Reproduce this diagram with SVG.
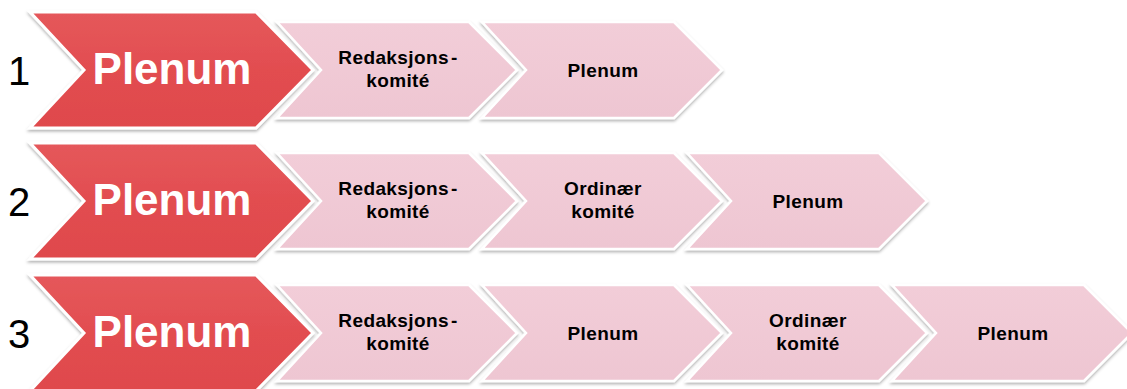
<svg xmlns="http://www.w3.org/2000/svg" width="1127" height="389" viewBox="0 0 1127 389">
<defs>
<linearGradient id="gRed" x1="0" y1="0" x2="0" y2="1">
<stop offset="0" stop-color="#e5585b"/>
<stop offset="0.5" stop-color="#e24d50"/>
<stop offset="1" stop-color="#df494c"/>
</linearGradient>
<linearGradient id="gPink" x1="0" y1="0" x2="0" y2="1">
<stop offset="0" stop-color="#f2cdd8"/>
<stop offset="1" stop-color="#eec6d2"/>
</linearGradient>
<filter id="sh" x="-5%" y="-10%" width="110%" height="125%">
<feDropShadow dx="0" dy="2" stdDeviation="1.5" flood-color="#000" flood-opacity="0.3"/>
</filter>
<path id="pink" d="M0,-48 L192,-48 L240,0 L192,48 L0,48 L44,0 Z"/>
<path id="red" d="M30,-58 L256,-58 L313,0 L256,58 L30,58 L84,0 Z"/>
</defs>
<style>
.pk{fill:url(#gPink);stroke:#fff;stroke-width:2.5;filter:url(#sh)}
.rd{fill:url(#gRed);stroke:#fff;stroke-width:3;filter:url(#sh)}
.num{font-family:"Liberation Sans",Arial,sans-serif;font-size:40px;fill:#000;text-anchor:middle}
.big{font-family:"Liberation Sans",Arial,sans-serif;font-weight:bold;font-size:44px;fill:#fff;text-anchor:middle}
.sm{font-family:"Liberation Sans",Arial,sans-serif;font-weight:bold;font-size:19px;fill:#000;text-anchor:middle;letter-spacing:0.4px}
</style>
<g id="connectors"/>
<!-- Row 1 -->
<g id="row1">
<g id="r1-n2" transform="translate(277,70)"><use href="#pink" class="pk"/>
<text class="sm" x="121" y="-6">Redaksjons<tspan dx="2">-</tspan></text><text class="sm" x="121" y="17">komité</text></g>
<g id="r1-n3" transform="translate(482,70)"><use href="#pink" class="pk"/>
<text class="sm" x="121" y="7">Plenum</text></g>
<g id="r1-n1" transform="translate(0,70)"><use href="#red" class="rd"/>
<text class="big" x="172" y="14">Plenum</text></g>
<text id="r1-num" class="num" x="19" y="85">1</text>
</g>
<!-- Row 2 -->
<g id="row2">
<g id="r2-n2" transform="translate(277,201)"><use href="#pink" class="pk"/>
<text class="sm" x="121" y="-6">Redaksjons<tspan dx="2">-</tspan></text><text class="sm" x="121" y="17">komité</text></g>
<g id="r2-n3" transform="translate(482,201)"><use href="#pink" class="pk"/>
<text class="sm" x="121" y="-6">Ordinær</text><text class="sm" x="121" y="17">komité</text></g>
<g id="r2-n4" transform="translate(687,201)"><use href="#pink" class="pk"/>
<text class="sm" x="121" y="7">Plenum</text></g>
<g id="r2-n1" transform="translate(0,201)"><use href="#red" class="rd"/>
<text class="big" x="172" y="14">Plenum</text></g>
<text id="r2-num" class="num" x="19" y="216">2</text>
</g>
<!-- Row 3 -->
<g id="row3">
<g id="r3-n2" transform="translate(277,333)"><use href="#pink" class="pk"/>
<text class="sm" x="121" y="-6">Redaksjons<tspan dx="2">-</tspan></text><text class="sm" x="121" y="17">komité</text></g>
<g id="r3-n3" transform="translate(482,333)"><use href="#pink" class="pk"/>
<text class="sm" x="121" y="7">Plenum</text></g>
<g id="r3-n4" transform="translate(687,333)"><use href="#pink" class="pk"/>
<text class="sm" x="121" y="-6">Ordinær</text><text class="sm" x="121" y="17">komité</text></g>
<g id="r3-n5" transform="translate(892,333)"><use href="#pink" class="pk"/>
<text class="sm" x="121" y="7">Plenum</text></g>
<g id="r3-n1" transform="translate(0,333)"><use href="#red" class="rd"/>
<text class="big" x="172" y="14">Plenum</text></g>
<text id="r3-num" class="num" x="19" y="348">3</text>
</g>
</svg>
